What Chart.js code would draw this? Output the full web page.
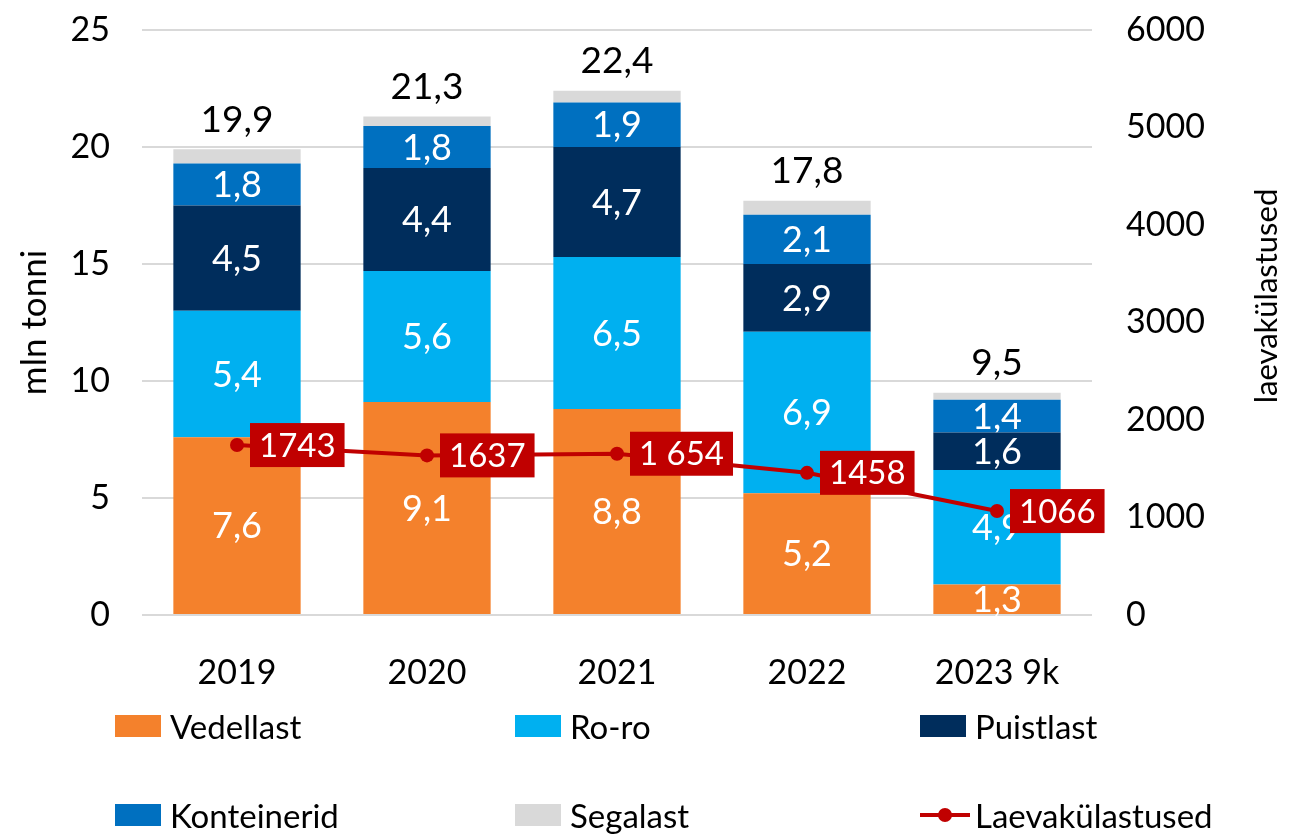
<!DOCTYPE html>
<html>
<head>
<meta charset="utf-8">
<script src="https://cdn.jsdelivr.net/npm/chart.js@4/dist/chart.umd.min.js"></script>
<style>
  html, body { margin: 0; padding: 0; background: #fff; }
  #wrap { position: relative; width: 1294px; height: 835px; }
  #chart { position: absolute; left: 0; top: 0; }
  #legend { position: absolute; left: 0; top: 0; width: 1294px; height: 835px; pointer-events: none; }
  .item { position: absolute; display: flex; align-items: center; transform: translateY(-50%);
          font-family: Lato, "Noto Sans", sans-serif; font-size: 33px; color: #000; }
  .sw { width: 46px; height: 22px; margin-right: 9px; }
  .ln { position: relative; width: 50px; height: 22px; margin-right: 5px; }
  .ln::before { content: ""; position: absolute; left: 0; right: 0; top: 9px; height: 4px; background: #c00000; }
  .ln::after { content: ""; position: absolute; left: 18px; top: 4px; width: 14px; height: 14px; border-radius: 50%; background: #c00000; }
</style>
</head>
<body>
<div id="wrap">
  <canvas id="chart" width="1294" height="835"></canvas>
  <div id="legend"></div>
</div>
<script>
const years = ["2019", "2020", "2021", "2022", "2023 9k"];
const vedellast   = [7.6, 9.1, 8.8, 5.2, 1.3];
const roro        = [5.4, 5.6, 6.5, 6.9, 4.9];
const puistlast   = [4.5, 4.4, 4.7, 2.9, 1.6];
const konteinerid = [1.8, 1.8, 1.9, 2.1, 1.4];
const segalast    = [0.6, 0.4, 0.5, 0.6, 0.3];
const totals      = [19.9, 21.3, 22.4, 17.8, 9.5];
const visits      = [1743, 1637, 1654, 1458, 1066];
const visitLabels = ["1743", "1637", "1 654", "1458", "1066"];

const FONT = 'Lato, "Noto Sans", sans-serif';
const RED = "#c00000";

function fmt(v) { return v.toFixed(1).replace(".", ","); }

// labels inside the bar segments, drawn right after each bar dataset
// so the line ends up on top of them
const labelPlugin = {
  id: "labels",
  afterDatasetDraw(chart, args) {
    const ds = chart.data.datasets[args.index];
    if (ds.type === "line" || !ds.showValues) return;
    const ctx = chart.ctx;
    ctx.save();
    ctx.font = `36px ${FONT}`;
    ctx.fillStyle = "#fff";
    ctx.textAlign = "center";
    ctx.textBaseline = "middle";
    args.meta.data.forEach((bar, i) => {
      const mid = (bar.y + bar.base) / 2;
      ctx.fillText(fmt(ds.data[i]), bar.x, mid + 1);
    });
    ctx.restore();
  },
  afterDatasetsDraw(chart) {
    const ctx = chart.ctx;
    ctx.save();
    // totals above stacks
    const topMeta = chart.getDatasetMeta(4);
    ctx.font = `37px ${FONT}`;
    ctx.fillStyle = "#000";
    ctx.textAlign = "center";
    ctx.textBaseline = "bottom";
    topMeta.data.forEach((bar, i) => {
      ctx.fillText(fmt(totals[i]), bar.x, bar.y - 11);
    });
    // red boxed labels on the line
    const lineMeta = chart.getDatasetMeta(5);
    ctx.font = `33px ${FONT}`;
    ctx.textAlign = "left";
    ctx.textBaseline = "middle";
    lineMeta.data.forEach((pt, i) => {
      const txt = visitLabels[i];
      const w = ctx.measureText(txt).width + 18;
      const h = 44;
      const x = pt.x + 13, y = pt.y - h / 2;
      ctx.fillStyle = RED;
      ctx.fillRect(x, y, w, h);
      ctx.fillStyle = "#fff";
      ctx.fillText(txt, x + 9, pt.y + 1);
    });
    // right axis title, reading bottom to top
    ctx.translate(1267, 296);
    ctx.rotate(-Math.PI / 2);
    ctx.font = `31px ${FONT}`;
    ctx.fillStyle = "#000";
    ctx.textAlign = "center";
    ctx.fillText("laevakülastused", 0, 0);
    ctx.restore();
  }
};

function fixV(width) {
  return s => { s.width = width; s.paddingTop = 0; s.paddingBottom = 0; };
}

const ctx = document.getElementById("chart");
const chart = new Chart(ctx, {
  data: {
    labels: years,
    datasets: [
      { type: "bar", label: "Vedellast", data: vedellast, backgroundColor: "#f4812c", yAxisID: "y", showValues: true },
      { type: "bar", label: "Ro-ro", data: roro, backgroundColor: "#00b0f0", yAxisID: "y", showValues: true },
      { type: "bar", label: "Puistlast", data: puistlast, backgroundColor: "#002d5c", yAxisID: "y", showValues: true },
      { type: "bar", label: "Konteinerid", data: konteinerid, backgroundColor: "#0070c0", yAxisID: "y", showValues: true },
      { type: "bar", label: "Segalast", data: segalast, backgroundColor: "#d9d9d9", yAxisID: "y", showValues: false },
      {
        type: "line", label: "Laevakülastused", data: visits, yAxisID: "y2", order: -1,
        borderColor: RED, backgroundColor: RED, borderWidth: 4,
        pointRadius: 7, pointBackgroundColor: RED, pointBorderWidth: 0, tension: 0,
      },
    ],
  },
  options: {
    responsive: false,
    animation: false,
    devicePixelRatio: 1,
    datasets: { bar: { barPercentage: 0.67, categoryPercentage: 1 } },
    layout: { padding: { left: 10, right: 0, top: 30, bottom: 0 } },
    plugins: { legend: { display: false }, tooltip: { enabled: false } },
    scales: {
      x: {
        stacked: true,
        grid: { display: false },
        border: { display: false },
        ticks: { color: "#000", font: { family: FONT, size: 34 }, padding: 30 },
        afterFit(s) { s.height = 220; s.paddingLeft = 0; s.paddingRight = 0; },
      },
      y: {
        stacked: true,
        min: 0, max: 25,
        ticks: { stepSize: 5, color: "#000", font: { family: FONT, size: 34 }, padding: 32 },
        grid: { color: "#d9d9d9", lineWidth: 2, drawTicks: false },
        border: { display: false },
        title: { display: true, text: "mln tonni", color: "#000", font: { family: FONT, size: 35 } },
        afterFit: fixV(132),
      },
      y2: {
        position: "right",
        min: 0, max: 6000,
        ticks: { stepSize: 1000, color: "#000", font: { family: FONT, size: 34 }, padding: 34,
                 callback: v => String(v) },
        grid: { display: false, drawTicks: false },
        border: { display: false },
        afterFit: fixV(202),
      },
    },
  },
  plugins: [labelPlugin],
});

// legend in html, two rows of three like the original
const legendPos = [[115, 726], [515, 726], [920, 726], [115, 815], [515, 815], [920, 815]];
const legendEl = document.getElementById("legend");
chart.data.datasets.forEach((ds, i) => {
  const item = document.createElement("div");
  item.className = "item";
  item.style.left = legendPos[i][0] + "px";
  item.style.top = legendPos[i][1] + "px";
  const mark = document.createElement("span");
  if (ds.type === "line") {
    mark.className = "ln";
  } else {
    mark.className = "sw";
    mark.style.background = ds.backgroundColor;
  }
  item.appendChild(mark);
  item.appendChild(document.createTextNode(ds.label));
  legendEl.appendChild(item);
});
</script>
</body>
</html>
